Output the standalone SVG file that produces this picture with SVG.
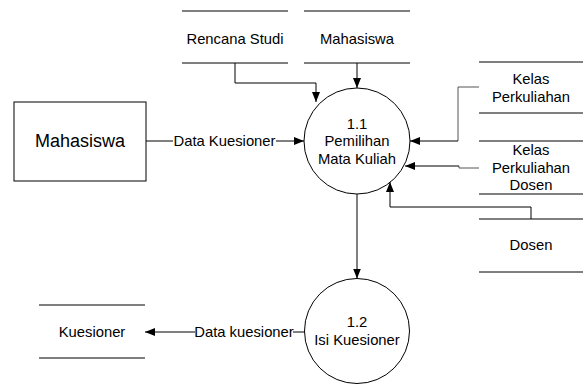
<svg xmlns="http://www.w3.org/2000/svg" width="583" height="385" viewBox="0 0 583 385">
<defs>
<marker id="ah" markerWidth="10" markerHeight="8" refX="10" refY="4" orient="auto" markerUnits="userSpaceOnUse">
<path d="M0,0 L10,4 L0,8 Z" fill="#000"/>
</marker>
<style>
text{font-family:"Liberation Sans",Arial,sans-serif;font-size:14.8px;fill:#000;text-anchor:middle}
.big{font-size:18px}
.s{stroke:#000;stroke-width:1;fill:none}
.c{stroke:#000;stroke-width:1;fill:none}
.g{stroke:#555;stroke-width:1;fill:none}
</style>
</defs>
<rect width="583" height="385" fill="#fff"/>
<g id="rencana-studi">
<line class="s" x1="182" y1="11" x2="288" y2="11"/>
<line class="s" x1="182" y1="63" x2="288" y2="63"/>
<text x="235" y="44">Rencana Studi</text>
</g>
<g id="mahasiswa-store">
<line class="s" x1="304" y1="11" x2="410" y2="11"/>
<line class="s" x1="304" y1="63" x2="410" y2="63"/>
<text x="357" y="44">Mahasiswa</text>
</g>
<g id="mahasiswa-entity">
<rect class="s" x="14" y="102" width="132" height="79"/>
<text class="big" x="80" y="147">Mahasiswa</text>
</g>
<g id="p11">
<circle class="s" cx="357" cy="141" r="53"/>
<text x="357" y="129">1.1</text>
<text x="357" y="146">Pemilihan</text>
<text x="357" y="164">Mata Kuliah</text>
</g>
<g id="kelas-perkuliahan">
<line class="s" x1="479" y1="62" x2="583" y2="62"/>
<line class="s" x1="479" y1="113" x2="583" y2="113"/>
<text x="531" y="84">Kelas</text>
<text x="531" y="102">Perkuliahan</text>
</g>
<g id="kelas-perkuliahan-dosen">
<line class="s" x1="479" y1="141" x2="583" y2="141"/>
<line class="s" x1="479" y1="194" x2="583" y2="194"/>
<text x="531" y="155">Kelas</text>
<text x="531" y="173">Perkuliahan</text>
<text x="531" y="190">Dosen</text>
</g>
<g id="dosen">
<line class="s" x1="479" y1="219" x2="583" y2="219"/>
<line class="s" x1="479" y1="272" x2="583" y2="272"/>
<text x="531" y="250">Dosen</text>
</g>
<g id="p12">
<circle class="s" cx="357" cy="331" r="52.5"/>
<text x="357" y="327">1.2</text>
<text x="357" y="345">Isi Kuesioner</text>
</g>
<g id="kuesioner">
<line class="s" x1="39" y1="305" x2="145" y2="305"/>
<line class="s" x1="39" y1="358" x2="145" y2="358"/>
<text x="92" y="337">Kuesioner</text>
</g>
<g id="connectors">
<polyline class="c" points="235,63 235,83 316,83 316,102" marker-end="url(#ah)"/>
<line class="c" x1="357" y1="63" x2="357" y2="88" marker-end="url(#ah)"/>
<line class="c" x1="146" y1="141" x2="173" y2="141"/>
<text x="224.5" y="146">Data Kuesioner</text>
<line class="c" x1="276" y1="141" x2="304" y2="141" marker-end="url(#ah)"/>
<polyline class="g" points="479,87 458,87 458,141"/>
<line class="c" x1="458" y1="141" x2="410" y2="141" marker-end="url(#ah)"/>
<polyline class="g" points="479,168 459,168 459,166"/>
<line class="c" x1="459" y1="166" x2="405" y2="166" marker-end="url(#ah)"/>
<polyline class="c" points="531,219 531,207 390,207 390,182" marker-end="url(#ah)"/>
<line class="c" x1="357" y1="194" x2="357" y2="278.5" marker-end="url(#ah)"/>
<line class="c" x1="304.5" y1="332" x2="293" y2="332"/>
<text x="244" y="337">Data kuesioner</text>
<line class="c" x1="195" y1="332" x2="145" y2="332" marker-end="url(#ah)"/>
</g>
</svg>
